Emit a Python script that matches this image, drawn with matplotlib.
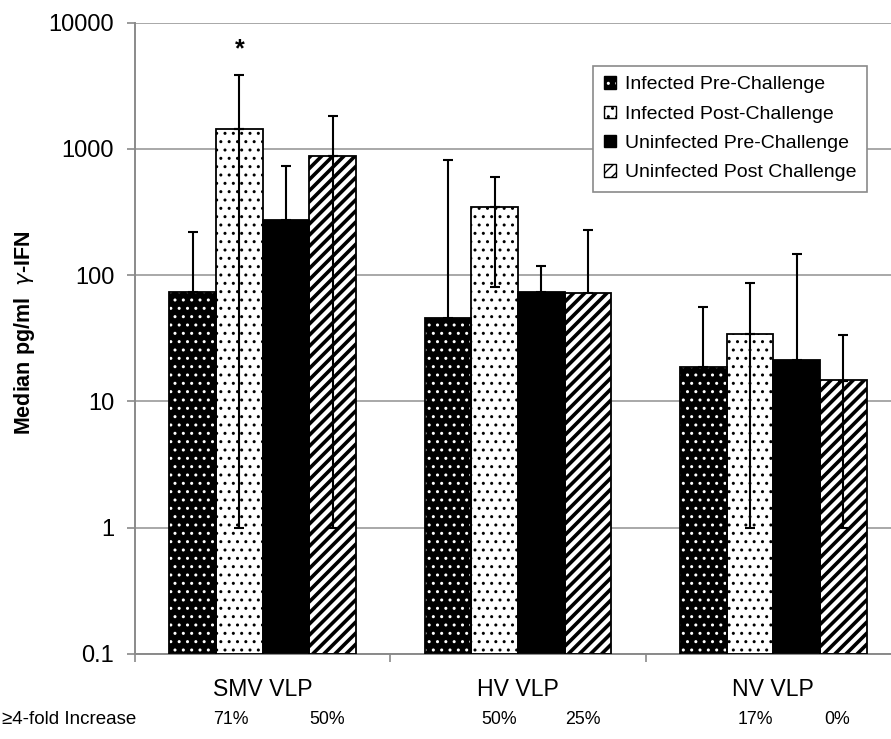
import matplotlib
matplotlib.use("Agg")
import matplotlib.pyplot as plt
import matplotlib.transforms as mtransforms
from matplotlib.patches import Patch
from matplotlib.legend_handler import HandlerTuple
from matplotlib.ticker import FixedLocator, NullLocator
import numpy as np

plt.rcParams['font.family'] = ['Liberation Sans', 'DejaVu Sans']

categories = ["SMV VLP", "HV VLP", "NV VLP"]
series = ["Infected Pre-Challenge", "Infected Post-Challenge",
          "Uninfected Pre-Challenge", "Uninfected Post Challenge"]
# medians per series across categories
medians = {
    "Infected Pre-Challenge":    [74, 45.6, 18.7],
    "Infected Post-Challenge":   [1430, 349, 34],
    "Uninfected Pre-Challenge":  [273, 73.6, 21.3],
    "Uninfected Post Challenge": [887, 71.9, 14.6],
}
err_upper = {
    "Infected Pre-Challenge":    [219, 813, 56],
    "Infected Post-Challenge":   [3880, 603, 86],
    "Uninfected Pre-Challenge":  [732, 118, 146],
    "Uninfected Post Challenge": [1810, 228, 33.6],
}
err_lower = {
    "Infected Pre-Challenge":    [74, 45.6, 18.7],
    "Infected Post-Challenge":   [1.0, 80, 1.0],
    "Uninfected Pre-Challenge":  [273, 73.6, 21.3],
    "Uninfected Post Challenge": [1.0, 71.9, 1.0],
}
fold_labels = ["71%", "50%", "50%", "25%", "17%", "0%"]
row_label = "\u22654-fold Increase"
yticks = [0.1, 1, 10, 100, 1000, 10000]
ytick_labels = ["0.1", "1", "10", "100", "1000", "10000"]

styles = {
    "Infected Pre-Challenge":    dict(face="black", hatchc="white", hatch="..", lw=1.0),
    "Infected Post-Challenge":   dict(face="white", hatchc="black", hatch="..", lw=1.0),
    "Uninfected Pre-Challenge":  dict(face="black", hatchc="black", hatch=None, lw=1.0),
    "Uninfected Post Challenge": dict(face="white", hatchc="black", hatch="///", lw=2.6),
}

fig = plt.figure(figsize=(8.91, 7.39), dpi=100)
ax = fig.add_axes([135/891, 1-654/739, 766/891, (654-22.7)/739])
ax.set_yscale("log")
ax.set_ylim(0.1, 10000)
ax.set_xlim(-0.5, 2.5)

x = np.arange(len(categories))
width = 0.183
offsets = [-0.2745, -0.0915, 0.0915, 0.2745]

def set_hlw(p, lw):
    try:
        p.set_hatch_linewidth(lw)
    except Exception:
        pass

handles = []
for s, off in zip(series, offsets):
    st = styles[s]
    vals = np.array(medians[s])
    with plt.rc_context({'hatch.linewidth': st['lw']}):
        bars = ax.bar(x + off, vals, width, bottom=0.1, facecolor=st['face'],
                      edgecolor=st['hatchc'], hatch=st['hatch'], linewidth=0, zorder=2)
        for b in bars:
            set_hlw(b, st['lw'])
        hp = Patch(facecolor=st['face'], edgecolor=st['hatchc'], hatch=st['hatch'],
                   linewidth=0)
        set_hlw(hp, st['lw'])
    op = Patch(facecolor='none', edgecolor='black', linewidth=1.0)
    handles.append((hp, op))
    ax.bar(x + off, vals, width, bottom=0.1, facecolor='none', edgecolor='black',
           linewidth=1.3, zorder=3)
    up = np.array(err_upper[s]) - vals
    lo = vals - np.array(err_lower[s])
    has_lo = lo > 0
    ax.errorbar(x + off, vals, yerr=[np.zeros_like(vals), up], fmt='none',
                ecolor='black', elinewidth=1.5, capsize=3.3, capthick=1.5, zorder=4)
    if has_lo.any():
        ax.errorbar((x + off)[has_lo], vals[has_lo],
                    yerr=[lo[has_lo], np.zeros(has_lo.sum())], fmt='none',
                    ecolor='black', elinewidth=1.5, capsize=3.3, capthick=1.5, zorder=4)

# asterisk
ax.text(x[0] + offsets[1], 6200, "*", ha='center', va='center', fontsize=18,
        fontweight='bold', zorder=5)

# grid & spines
ax.yaxis.set_major_locator(FixedLocator(yticks))
ax.yaxis.set_minor_locator(NullLocator())
ax.set_yticklabels(ytick_labels)
ax.grid(axis='y', color='#a8a8a8', linewidth=1.4, zorder=0)
ax.set_axisbelow(True)
for sp in ['top', 'right']:
    ax.spines[sp].set_visible(False)
for sp in ['left', 'bottom']:
    ax.spines[sp].set_color('#8a8a8a')
    ax.spines[sp].set_linewidth(1.4)
ax.tick_params(axis='y', which='major', length=5.5, width=1.2, color='#8a8a8a',
               labelsize=17, pad=9.5, direction='out')

ax.set_xticks([-0.5, 0.5, 1.5, 2.5])
ax.set_xticklabels([])
ax.set_xticks(x, minor=True)
ax.set_xticklabels(categories, minor=True)
ax.tick_params(axis='x', which='major', length=5.5, width=1.2, color='#8a8a8a', direction='out')
ax.tick_params(axis='x', which='minor', length=0, labelsize=16.6, pad=17)

ax.set_ylabel(r"Median pg/ml  $\gamma$-IFN", fontsize=15.5, fontweight='bold')
ax.yaxis.set_label_coords(-0.128, 0.509)

# legend
leg = ax.legend(handles=handles, labels=series, handler_map={tuple: HandlerTuple(ndivide=1, pad=0)},
                loc='upper left', bbox_to_anchor=(0.598, 0.932),
                fontsize=14, frameon=True, fancybox=False, edgecolor='#8a8a8a',
                framealpha=1, handlelength=0.62, handleheight=0.62,
                handletextpad=0.45, labelspacing=0.62, borderpad=0.55,
                borderaxespad=0)
leg.get_frame().set_linewidth(1.2)
leg.set_zorder(6)

# bottom row
trans = mtransforms.blended_transform_factory(ax.transData, fig.transFigure)
fig.text(2/891, 1-720/739, row_label, ha='left', va='center', fontsize=13.5)
fold_offsets = [-0.126, 0.251, -0.075, 0.253, -0.069, 0.248]
for k, lab in enumerate(fold_labels):
    ax.text(x[k // 2] + fold_offsets[k], 1-720/739, lab, transform=trans,
            ha='center', va='center', fontsize=12.8)

fig.savefig("out.png", dpi=100)
